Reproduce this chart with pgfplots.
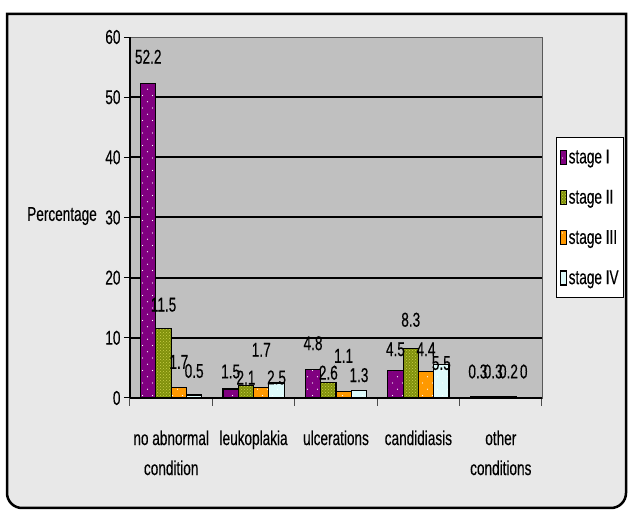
\documentclass[border=0pt]{standalone}
\usepackage{fontspec}
\setmainfont{Liberation Sans}[FakeStretch=0.68, FakeBold=0.3]
\usepackage{pgfplots}
\usepackage{pgfplotstable}
\pgfplotsset{compat=1.18}
\usetikzlibrary{patterns}
\definecolor{bgc}{HTML}{E8E8E8}
\definecolor{plotc}{HTML}{C0C0C0}
\definecolor{sI}{HTML}{800080}
\definecolor{sII}{HTML}{80900C}
\definecolor{sIIp}{HTML}{C8D048}
\definecolor{sIII}{HTML}{FF9900}
\definecolor{sIV}{HTML}{DDFAFA}
\pgfdeclarepatternformonly{sparsedots}{\pgfqpoint{-1pt}{-1pt}}{\pgfqpoint{11pt}{13.5pt}}{\pgfqpoint{10pt}{12.5pt}}{%
  \pgfpathcircle{\pgfqpoint{2.5pt}{3pt}}{0.7pt}%
  \pgfpathcircle{\pgfqpoint{7.5pt}{9.25pt}}{0.7pt}%
  \pgfusepath{fill}}
\newcommand{\cf}{\fontsize{20}{30}\selectfont}
\pgfplotstableread{
x s1 s2 s3 s4 l1 l2 l3 l4
0 52.2 11.5 1.7 0.5 56.7 15.5 6.0 4.5
1 1.5 2.1 1.7 2.5 4.4 3.4 8.0 3.4
2 4.8 2.6 1.1 1.3 9.1 4.2 7.0 3.8
3 4.5 8.3 4.4 5.5 8.1 13.0 8.1 5.8
4 0.3 0.3 0.2 0 4.4 4.4 4.4 4.4
}\data
\begin{document}
\begin{tikzpicture}
\path[use as bounding box] (0pt,0pt) rectangle (629pt,511pt);
\draw[line width=2.5pt, fill=bgc] (7pt,497pt) -- (7pt,18pt) arc[start angle=180, end angle=270, radius=15pt] -- (611pt,3pt) arc[start angle=270, end angle=360, radius=15pt] -- (626pt,497pt) -- cycle;
\begin{axis}[
  at={(130pt,113pt)}, anchor=south west, scale only axis,
  width=412pt, height=361pt,
  xmin=-0.5, xmax=4.5, ymin=0, ymax=60,
  /pgf/number format/assume math mode=true,
  axis background/.style={fill=plotc, draw=gray!70!black},
  axis x line*=bottom, axis y line*=left,
  axis line style={-, black, line width=1.4pt},
  ytick={0,10,...,50},
  ymajorgrids, major grid style={black, line width=2pt},
  extra y ticks={60}, extra y tick style={grid=none},
  xtick={0,1,2,3,4},
  xticklabels={{no abnormal\\condition},leukoplakia,ulcerations,candidiasis,{other\\conditions}},
  minor xtick={-0.5,0.5,1.5,2.5,3.5,4.5},
  tick align=outside, major tick length=6pt, minor tick length=8pt,
  major x tick style={draw=none},
  minor x tick style={gray!60!black, line width=1pt},
  ytick style={black, line width=1pt},
  tick label style={font=\cf},
  xticklabel style={align=center, yshift=-23pt},
  ylabel={Percentage},
  every axis y label/.style={at={(axis description cs:-0.165,0.504)}, anchor=center, font=\cf},
  legend image code/.code={\draw[#1] (0pt,-7pt) rectangle (6pt,7pt);},
  legend style={at={(1.034,0.723)}, anchor=north west, draw=black, line width=1.2pt, fill=white,
    font=\cf, row sep=21pt, inner xsep=3pt, inner ysep=10pt, cells={anchor=west}},
]
\addplot[ybar, bar width=15.3pt, bar shift=-22.95pt, fill=sI, draw=black, line width=1.1pt, postaction={pattern=sparsedots, pattern color=white}] table[x=x,y=s1] {\data};
\addlegendentry{stage I}
\addplot[ybar, bar width=15.3pt, bar shift=-7.65pt, fill=sII, draw=black, line width=1.1pt, postaction={pattern=crosshatch dots, pattern color=sIIp}] table[x=x,y=s2] {\data};
\addlegendentry{stage II}
\addplot[ybar, bar width=15.3pt, bar shift=7.65pt, fill=sIII, draw=black, line width=1.1pt, postaction={pattern=sparsedots, pattern color=white}] table[x=x,y=s3] {\data};
\addlegendentry{stage III}
\addplot[ybar, bar width=15.3pt, bar shift=22.95pt, fill=sIV, draw=black, line width=1.1pt, postaction={pattern=sparsedots, pattern color=white}] table[x=x,y=s4] {\data};
\addlegendentry{stage IV}
\addplot[forget plot, only marks, mark=*, mark size=0pt, mark options={draw=none,fill=none}, nodes near coords, point meta=explicit symbolic, nodes near coords style={anchor=center, font=\cf, inner sep=0pt}] table[x expr=\thisrow{x}-0.2785, y=l1, meta=s1] {\data};
\addplot[forget plot, only marks, mark=*, mark size=0pt, mark options={draw=none,fill=none}, nodes near coords, point meta=explicit symbolic, nodes near coords style={anchor=center, font=\cf, inner sep=0pt}] table[x expr=\thisrow{x}-0.0928, y=l2, meta=s2] {\data};
\addplot[forget plot, only marks, mark=*, mark size=0pt, mark options={draw=none,fill=none}, nodes near coords, point meta=explicit symbolic, nodes near coords style={anchor=center, font=\cf, inner sep=0pt}] table[x expr=\thisrow{x}+0.0928, y=l3, meta=s3] {\data};
\addplot[forget plot, only marks, mark=*, mark size=0pt, mark options={draw=none,fill=none}, nodes near coords, point meta=explicit symbolic, nodes near coords style={anchor=center, font=\cf, inner sep=0pt}] table[x expr=\thisrow{x}+0.2785, y=l4, meta=s4] {\data};
\end{axis}
\end{tikzpicture}
\end{document}
